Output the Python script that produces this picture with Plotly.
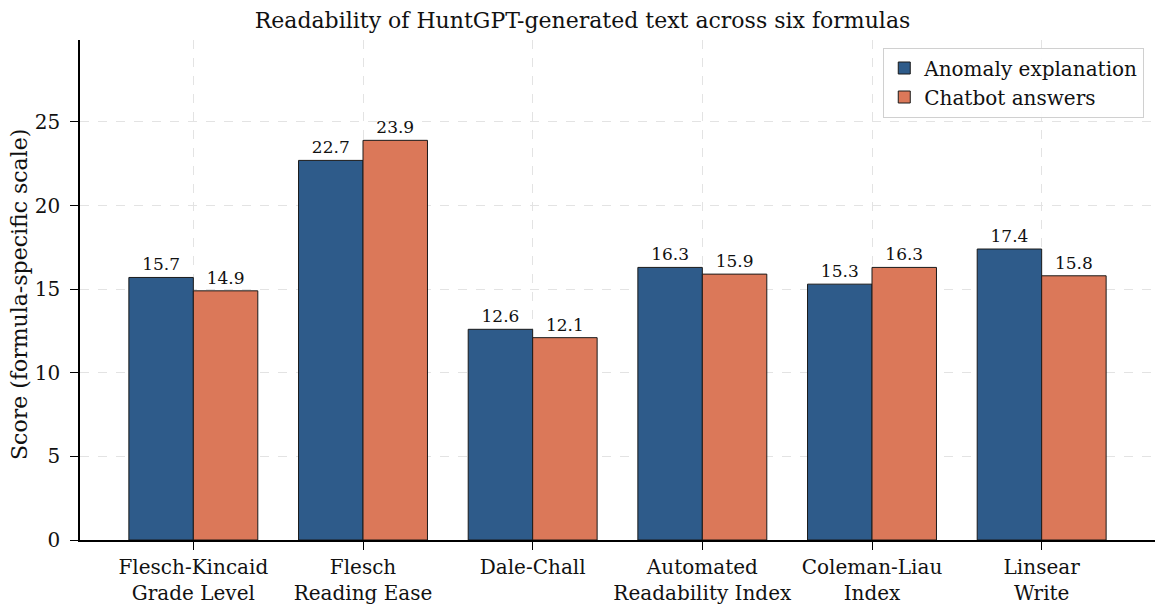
import plotly.graph_objects as go

categories = ["Flesch-Kincaid<br>Grade Level", "Flesch<br>Reading Ease", "Dale-Chall",
              "Automated<br>Readability Index", "Coleman-Liau<br>Index", "Linsear<br>Write"]
anomaly = [15.7, 22.7, 12.6, 16.3, 15.3, 17.4]
chatbot = [14.9, 23.9, 12.1, 15.9, 16.3, 15.8]
yticks = [0, 5, 10, 15, 20, 25]
y_title = "Score (formula-specific scale)"

FONT = "DejaVu Serif"
xs = list(range(len(categories)))
w = 0.38

fig = go.Figure()
fig.add_trace(go.Bar(
    x=xs, y=anomaly, width=w, offset=-w, name="Anomaly explanation",
    marker=dict(color="#2e5b8a", line=dict(color="#1a1a1a", width=1)),
    text=[f"{v:.1f}" for v in anomaly], textposition="outside",
    textfont=dict(family=FONT, size=17, color="#111"), cliponaxis=False,
))
fig.add_trace(go.Bar(
    x=xs, y=chatbot, width=w, offset=0, name="Chatbot answers",
    marker=dict(color="#db7859", line=dict(color="#1a1a1a", width=1)),
    text=[f"{v:.1f}" for v in chatbot], textposition="outside",
    textfont=dict(family=FONT, size=17, color="#111"), cliponaxis=False,
))

fig.update_layout(
    width=1165, height=606,
    margin=dict(l=80, r=10, t=40, b=66),
    paper_bgcolor="white", plot_bgcolor="white",
    font=dict(family=FONT, size=18, color="#111"),
    title=dict(text="Readability of HuntGPT-generated text across six formulas",
               x=0.5, xref="container", xanchor="center", y=0.967, yanchor="middle",
               font=dict(family=FONT, size=22, color="#111")),
    showlegend=True,
    legend=dict(x=0.99, xanchor="right", y=0.985, yanchor="top",
                bgcolor="rgba(255,255,255,0.9)", bordercolor="#d0d0d0", borderwidth=1,
                font=dict(family=FONT, size=20, color="#111"), tracegroupgap=2),
    annotations=[dict(text=y_title, textangle=-90, xref="paper", yref="paper",
                      x=-61 / 1075, y=0.49, xanchor="center", yanchor="middle",
                      showarrow=False, font=dict(family=FONT, size=22, color="#111"))],
)
fig.update_xaxes(
    range=[-0.668, 5.668], tickmode="array", tickvals=xs, ticktext=categories,
    showline=True, linecolor="black", linewidth=1.5, mirror=False,
    ticks="outside", ticklen=8, tickwidth=1.2, tickcolor="black",
    showgrid=True, gridcolor="#e3e3e3", griddash="dash", gridwidth=1,
    tickfont=dict(family=FONT, size=20, color="#111"), zeroline=False,
    ticklabelstandoff=0, automargin=False,
)
fig.update_yaxes(
    range=[0, 29.9], tickmode="array", tickvals=yticks,
    showline=True, linecolor="black", linewidth=1.5,
    ticks="outside", ticklen=8, tickwidth=1.2, tickcolor="black",
    showgrid=True, gridcolor="#e3e3e3", griddash="dash", gridwidth=1,
    tickfont=dict(family=FONT, size=20, color="#111"), zeroline=False,
    ticklabelstandoff=6, automargin=False,
)

fig.write_html("out.html")
